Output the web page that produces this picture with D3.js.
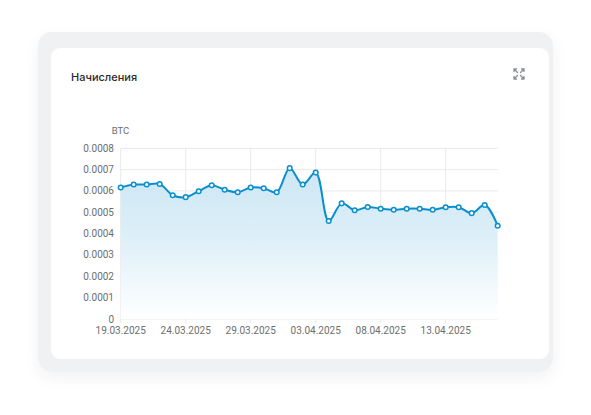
<!DOCTYPE html>
<html><head><meta charset="utf-8">
<script src="https://cdn.jsdelivr.net/npm/d3@7"></script>
<style>
html,body{margin:0;padding:0;background:#fff;}
svg{display:block;}
</style></head>
<body>
<svg id="c" width="591" height="415"></svg>
<script>
const title = "Начисления";
const unitLabel = "BTC";
const startDate = "2025-03-19";
const values = [0.000616,0.000630,0.000630,0.000633,0.000580,0.000571,0.000599,0.000627,0.000606,0.000594,
                0.000616,0.000613,0.000594,0.000707,0.000630,0.000686,0.000459,0.000542,0.000510,0.000525,
                0.000517,0.000512,0.000517,0.000517,0.000512,0.000524,0.000524,0.000496,0.000534,0.000437];
const yTicks = [0,0.0001,0.0002,0.0003,0.0004,0.0005,0.0006,0.0007,0.0008];
const xTickLabels = ["19.03.2025","24.03.2025","29.03.2025","03.04.2025","08.04.2025","13.04.2025"];

const parse = d3.utcParse("%Y-%m-%d");
const parseTick = d3.utcParse("%d.%m.%Y");
const fmt = d3.utcFormat("%d.%m.%Y");
const t0 = parse(startDate);
const data = values.map((v,i)=>({date:d3.utcDay.offset(t0,i), v}));

const svg = d3.select("#c");
const defs = svg.append("defs");
const sh = defs.append("filter").attr("id","sh").attr("x","-10%").attr("y","-10%").attr("width","120%").attr("height","130%");
sh.append("feDropShadow").attr("dx",0).attr("dy",6).attr("stdDeviation",8).attr("flood-color","#000").attr("flood-opacity",0.05);

// outer panel + inner card
svg.append("rect").attr("x",38).attr("y",32).attr("width",515).attr("height",340).attr("rx",14)
  .attr("fill","#f0f1f3").attr("filter","url(#sh)");
svg.append("rect").attr("x",51).attr("y",48).attr("width",498).attr("height",311).attr("rx",9)
  .attr("fill","#ffffff");

svg.append("text").attr("x",71).attr("y",80.5).text(title)
  .attr("font-family","Inter, 'Open Sans', sans-serif").attr("font-weight",500)
  .attr("font-size",11).attr("fill","#2b2b2b");

// expand icon
const ic = svg.append("g").attr("transform","translate(519,74)").attr("stroke","#8a8f96")
  .attr("stroke-width",1.3).attr("fill","none").attr("stroke-linecap","round");
[[1,1],[-1,1],[1,-1],[-1,-1]].forEach(([sx,sy])=>{
  ic.append("path").attr("d",`M${sx*1.5},${sy*1.5} L${sx*5},${sy*5} M${sx*5},${sy*2.5} L${sx*5},${sy*5} L${sx*2.5},${sy*5}`);
});

const x = d3.scaleUtc().domain([data[0].date, data[data.length-1].date]).range([120.7, 497.7]);
const y = d3.scaleLinear().domain([0,0.0008]).range([319,148.3]);

const grad = defs.append("linearGradient").attr("id","g").attr("gradientUnits","userSpaceOnUse")
  .attr("x1",0).attr("x2",0).attr("y1",y(0.0007)).attr("y2",y(0));
grad.append("stop").attr("offset","0%").attr("stop-color","#cce7f4");
grad.append("stop").attr("offset","45%").attr("stop-color","#ddeff8");
grad.append("stop").attr("offset","100%").attr("stop-color","#ffffff");

// horizontal grid
const fontAxis = "Roboto, 'Liberation Sans', sans-serif";
const gy = svg.append("g");
yTicks.forEach(t=>{
  gy.append("line").attr("x1",120.7).attr("x2",497.7).attr("y1",y(t)).attr("y2",y(t))
    .attr("stroke","#e9e9ec").attr("stroke-width",1);
  gy.append("text").attr("x",114).attr("y",y(t)+3.5).attr("text-anchor","end")
    .attr("font-family",fontAxis).attr("font-size",10).attr("fill","#6e6e6e").text(t===0?"0":t.toFixed(4));
});
// vertical grid
const gx = svg.append("g");
xTickLabels.forEach(l=>{
  const xx = x(parseTick(l));
  gx.append("line").attr("x1",xx).attr("x2",xx).attr("y1",y(0.0008)).attr("y2",y(0)+4)
    .attr("stroke","#e9e9ec").attr("stroke-width",1);
  gx.append("text").attr("x",xx).attr("y",334).attr("text-anchor","middle")
    .attr("font-family",fontAxis).attr("font-size",10).attr("fill","#6e6e6e").text(fmt(parseTick(l)));
});
svg.append("text").attr("x",120.5).attr("y",134).attr("text-anchor","middle")
  .attr("font-family",fontAxis).attr("font-size",9.5).attr("fill","#6e6e6e").text(unitLabel);

const curve = d3.curveCatmullRom.alpha(0.5);
const area = d3.area().x(d=>x(d.date)).y0(y(0)).y1(d=>y(d.v)).curve(curve);
const line = d3.line().x(d=>x(d.date)).y(d=>y(d.v)).curve(curve);
svg.append("path").datum(data).attr("d",area).attr("fill","url(#g)");
svg.append("path").datum(data).attr("d",line).attr("fill","none").attr("stroke","#0a8fce").attr("stroke-width",2);
svg.append("g").selectAll("circle").data(data).join("circle")
  .attr("cx",d=>x(d.date)).attr("cy",d=>y(d.v)).attr("r",2.3)
  .attr("fill","#fff").attr("stroke","#0a8fce").attr("stroke-width",1.5);
</script>
</body></html>
